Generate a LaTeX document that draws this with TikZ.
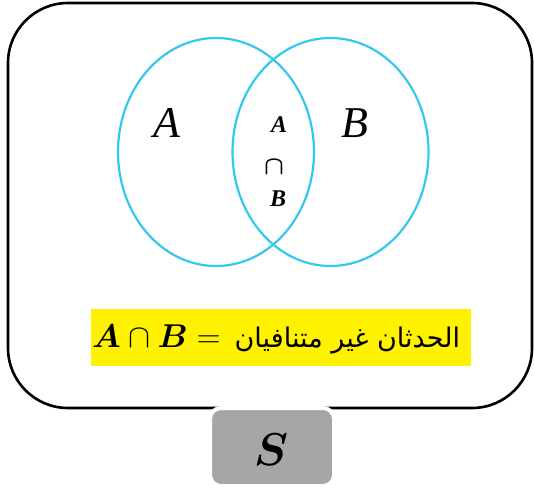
\RequirePackage{fix-cm}
\documentclass[tikz,border=0pt]{standalone}
\usepackage{amsmath}
\usepackage{bm}
\usepackage{fontspec}
\usepackage{tikz}
\setmainfont{Liberation Serif}
\newfontfamily\arabicfont[Script=Arabic]{DejaVu Sans}
\TeXXeTstate=1
\definecolor{venncyan}{RGB}{52,200,238}
\definecolor{boxgray}{RGB}{166,166,166}

\begin{document}
\begin{tikzpicture}[x=1pt,y=-1pt,
  vennline/.style={venncyan,line width=2.2pt},
  setlabel/.style={inner sep=0,font=\fontsize{44}{44}\selectfont\itshape},
  meetlabel/.style={inner sep=0,font=\fontsize{24}{24}\selectfont\bfseries\itshape}]
\useasboundingbox (0,0) rectangle (534,489);
% sample space frame
\draw[black,line width=2.6pt,rounded corners=60pt] (8,3) rectangle (532,408);
% the two events
\draw[vennline] (216,152) ellipse (98pt and 114pt);
\draw[vennline] (330.5,152) ellipse (98pt and 114pt);
\node[setlabel] (setA) at (167,123) {A};
\node[setlabel] (setB) at (355,123) {B};
\node[meetlabel] (meetA) at (279,125) {A};
\node[inner sep=0] (meetcap) at (274,167) {\fontsize{26}{26}\selectfont$\bm{\cap}$};
\node[meetlabel] (meetB) at (278,199) {B};
% highlighted statement
\fill[yellow] (91,309) rectangle (471,366);
\node[anchor=base west,inner sep=0] (rule) at (92,347)
  {\fontsize{33}{33}\selectfont$\bm{A}\cap\bm{B}=$\hspace{14pt}{\arabicfont\fontsize{27}{27}\selectfont\beginR الحدثان غير متنافيان\endR}};
% label of the space
\draw[white,line width=4pt,fill=boxgray,rounded corners=11pt] (210,408) rectangle (334,486);
\node[inner sep=0] (space) at (271,450) {\fontsize{46}{46}\selectfont$\bm{S}$};
\end{tikzpicture}
\end{document}
